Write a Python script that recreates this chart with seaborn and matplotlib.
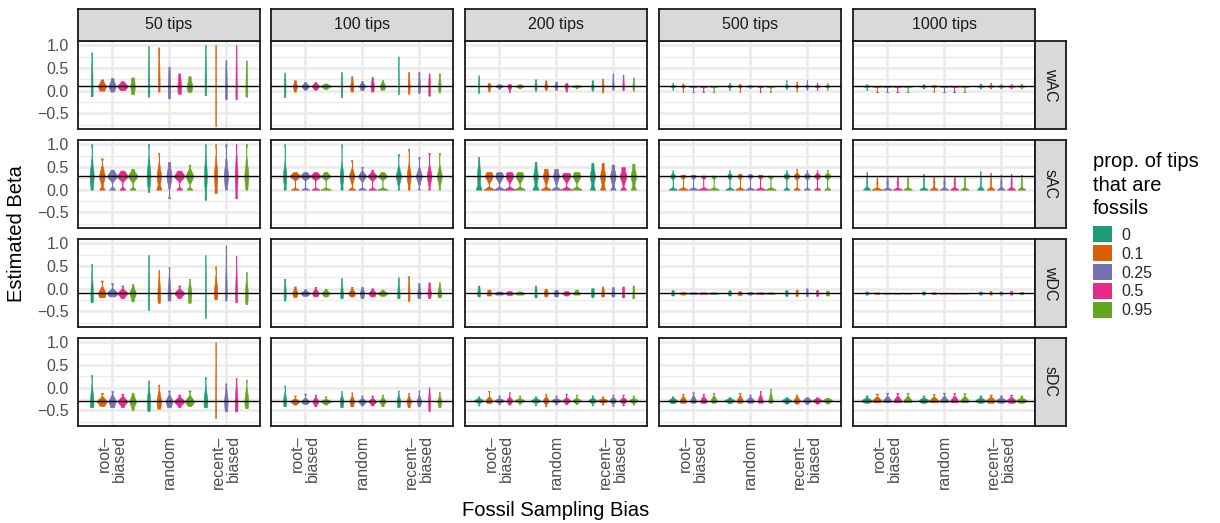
import numpy as np
import pandas as pd
import seaborn as sns
import matplotlib.pyplot as plt
from matplotlib.patches import Patch

# ---- data ---------------------------------------------------------------
tips = ["50 tips", "100 tips", "200 tips", "500 tips", "1000 tips"]
models = ["wAC", "sAC", "wDC", "sDC"]
true_beta = [0.1, 0.3, -0.1, -0.3]
bias = ["root\u2013\nbiased", "random", "recent\u2013\nbiased"]
props = ["0", "0.1", "0.25", "0.5", "0.95"]
colors = ["#1B9E77", "#D95F02", "#7570B3", "#E7298A", "#66A61E"]

# each row = one tips panel, 15 violins ordered bias x prop
wac_lo = [
    [-0.12, 0.00, -0.02, 0.01, -0.08, -0.13, -0.02, -0.17, -0.07, -0.03, -0.10, -0.78, -0.18, -0.19, -0.13],
    [-0.14, -0.02, 0.02, 0.02, 0.04, -0.14, -0.02, 0.01, -0.02, 0.02, -0.08, -0.07, -0.05, -0.11, -0.04],
    [-0.05, -0.02, 0.04, -0.03, 0.05, 0.00, 0.02, 0.02, -0.02, 0.05, 0.00, -0.04, 0.02, 0.01, 0.00],
    [0.02, -0.03, -0.03, -0.03, -0.03, 0.02, -0.03, 0.06, -0.03, -0.03, 0.04, -0.02, 0.02, 0.02, 0.02],
    [0.02, -0.03, -0.03, -0.03, -0.03, 0.05, -0.02, -0.03, -0.03, -0.03, 0.05, 0.05, 0.05, 0.05, 0.05],
]
wac_hi = [
    [0.84, 0.25, 0.28, 0.21, 0.29, 0.98, 0.95, 0.53, 0.38, 0.32, 1.00, 1.00, 0.68, 1.00, 0.66],
    [0.40, 0.23, 0.19, 0.19, 0.16, 0.41, 0.32, 0.21, 0.30, 0.23, 0.75, 0.41, 0.41, 0.38, 0.38],
    [0.34, 0.17, 0.14, 0.15, 0.14, 0.25, 0.23, 0.20, 0.17, 0.12, 0.23, 0.27, 0.38, 0.35, 0.29],
    [0.17, 0.16, 0.10, 0.10, 0.10, 0.17, 0.15, 0.12, 0.11, 0.10, 0.23, 0.20, 0.23, 0.17, 0.17],
    [0.14, 0.10, 0.10, 0.10, 0.10, 0.14, 0.12, 0.10, 0.10, 0.10, 0.15, 0.17, 0.14, 0.14, 0.15],
]
wac_mid = [0.10, 0.10, 0.10, 0.10, 0.10]
wac_spread = [0.48, 0.5, 0.63, 0.26, 0.24]
wac_bw = [0.03, 0.02, 0.012, 0.008, 0.006]

sac_lo = [
    [0.00, 0.00, 0.00, 0.00, 0.00, -0.05, 0.00, -0.19, 0.00, 0.00, -0.22, -0.07, 0.00, -0.19, 0.00],
    [0.00, 0.00, 0.00, 0.00, 0.00, 0.00, 0.00, 0.00, 0.00, 0.00, 0.00, 0.00, 0.00, 0.00, 0.00],
    [0.00, 0.00, 0.00, 0.00, 0.00, 0.00, 0.00, 0.00, 0.00, 0.00, 0.00, 0.00, 0.00, 0.00, 0.00],
    [0.00, 0.00, 0.00, 0.00, 0.00, 0.00, 0.00, 0.00, 0.00, 0.00, 0.00, 0.00, 0.00, 0.00, 0.00],
    [0.00, 0.00, 0.00, 0.00, 0.00, 0.00, 0.00, 0.00, 0.00, 0.00, 0.00, 0.00, 0.00, 0.00, 0.00],
]
sac_hi = [
    [1.00, 0.69, 0.44, 0.42, 0.46, 1.00, 0.81, 0.61, 0.42, 0.55, 1.00, 1.00, 1.00, 1.00, 1.00],
    [1.00, 0.39, 0.39, 0.39, 0.39, 1.00, 0.65, 0.50, 0.44, 0.39, 0.78, 0.90, 0.72, 0.81, 0.81],
    [0.72, 0.39, 0.39, 0.39, 0.39, 0.61, 0.46, 0.46, 0.37, 0.39, 0.59, 0.59, 0.55, 0.50, 0.57],
    [0.43, 0.33, 0.33, 0.31, 0.31, 0.43, 0.35, 0.35, 0.33, 0.31, 0.43, 0.46, 0.43, 0.43, 0.44],
    [0.39, 0.28, 0.28, 0.28, 0.30, 0.35, 0.31, 0.31, 0.31, 0.31, 0.41, 0.37, 0.33, 0.35, 0.33],
]
# how many estimates pile up at the lower bound (0) in sAC
sac_floor = [
    [1, 3, 3, 3, 3, 1, 3, 1, 3, 3, 1, 1, 1, 1, 1],
    [1, 4, 4, 4, 6, 1, 4, 4, 4, 6, 1, 1, 1, 1, 1],
    [4, 6, 6, 6, 6, 4, 6, 6, 6, 6, 3, 3, 3, 3, 3],
    [12, 15, 15, 15, 15, 12, 15, 15, 15, 15, 7, 7, 7, 7, 7],
    [18, 28, 18, 18, 18, 18, 18, 18, 18, 18, 18, 18, 18, 18, 18],
]
sac_mid = [0.30, 0.30, 0.30, 0.30, 0.16]
sac_spread = [0.2, 0.16, 0.29, 0.105, 0.49]
sac_bw = [0.035, 0.024, 0.035, 0.028, 0.025]

wdc_lo = [
    [-0.30, -0.19, -0.17, -0.21, -0.28, -0.47, -0.31, -0.26, -0.21, -0.31, -0.64, -0.23, -0.26, -0.30, -0.34],
    [-0.26, -0.19, -0.16, -0.17, -0.17, -0.21, -0.17, -0.21, -0.17, -0.16, -0.21, -0.27, -0.21, -0.21, -0.19],
    [-0.17, -0.15, -0.13, -0.14, -0.13, -0.19, -0.17, -0.17, -0.15, -0.13, -0.19, -0.17, -0.17, -0.19, -0.21],
    [-0.15, -0.13, -0.12, -0.12, -0.12, -0.15, -0.14, -0.13, -0.12, -0.12, -0.16, -0.16, -0.16, -0.16, -0.15],
    [-0.13, -0.12, -0.11, -0.11, -0.11, -0.13, -0.12, -0.11, -0.11, -0.11, -0.13, -0.13, -0.13, -0.13, -0.12],
]
wdc_hi = [
    [0.55, 0.18, 0.12, 0.07, 0.10, 0.74, 0.41, 0.48, 0.07, 0.22, 0.74, 0.49, 0.95, 0.72, 0.37],
    [0.22, 0.05, -0.01, 0.04, 0.00, 0.23, 0.04, 0.04, 0.01, -0.02, 0.25, 0.28, 0.13, 0.14, 0.14],
    [0.07, -0.02, -0.06, -0.05, -0.06, 0.07, 0.00, -0.02, -0.05, -0.02, 0.01, 0.05, 0.04, 0.05, 0.07],
    [-0.03, -0.07, -0.08, -0.08, -0.08, -0.03, -0.05, -0.07, -0.08, -0.08, -0.03, -0.02, 0.01, -0.03, -0.04],
    [-0.06, -0.08, -0.09, -0.09, -0.09, -0.06, -0.08, -0.09, -0.09, -0.09, -0.06, -0.05, -0.06, -0.05, -0.07],
]
wdc_mid = [-0.10, -0.10, -0.10, -0.10, -0.10]
wdc_spread = [0.32, 0.52, 0.97, 1.25, 2.5]
wdc_bw = [0.025, 0.015, 0.01, 0.006, 0.005]

sdc_lo = [
    [-0.43, -0.40, -0.43, -0.43, -0.49, -0.51, -0.46, -0.43, -0.43, -0.40, -0.43, -0.67, -0.52, -0.52, -0.45],
    [-0.41, -0.37, -0.36, -0.41, -0.37, -0.43, -0.41, -0.39, -0.39, -0.41, -0.43, -0.43, -0.41, -0.51, -0.43],
    [-0.39, -0.34, -0.36, -0.37, -0.36, -0.39, -0.41, -0.37, -0.36, -0.36, -0.39, -0.37, -0.40, -0.39, -0.37],
    [-0.34, -0.33, -0.33, -0.33, -0.33, -0.34, -0.33, -0.33, -0.33, -0.33, -0.35, -0.35, -0.36, -0.35, -0.35],
    [-0.33, -0.32, -0.32, -0.32, -0.32, -0.33, -0.32, -0.32, -0.32, -0.32, -0.33, -0.33, -0.33, -0.33, -0.33],
]
sdc_hi = [
    [0.28, -0.11, -0.07, -0.13, -0.11, 0.16, 0.07, -0.06, -0.15, -0.06, 0.24, 1.00, 0.10, 0.22, 0.18],
    [0.05, -0.17, -0.13, -0.15, -0.19, -0.07, -0.10, -0.17, -0.17, -0.15, -0.06, -0.11, -0.06, 0.01, -0.09],
    [-0.19, -0.07, -0.17, -0.10, -0.17, -0.19, -0.13, -0.17, -0.13, -0.15, -0.17, -0.19, -0.15, -0.15, -0.17],
    [-0.19, -0.13, -0.10, -0.13, -0.11, -0.21, -0.11, -0.15, -0.07, -0.02, -0.21, -0.15, -0.21, -0.21, -0.22],
    [-0.17, -0.13, -0.11, -0.11, -0.11, -0.17, -0.14, -0.11, -0.11, -0.12, -0.17, -0.15, -0.17, -0.15, -0.17],
]
sdc_mid = [-0.30, -0.30, -0.28, -0.28, -0.28]
sdc_spread = [0.32, 0.34, 0.28, 0.5, 0.5]
sdc_bw = [0.025, 0.015, 0.015, 0.015, 0.015]

model_data = [
    (wac_lo, wac_hi, wac_mid, wac_spread, wac_bw, None),
    (sac_lo, sac_hi, sac_mid, sac_spread, sac_bw, sac_floor),
    (wdc_lo, wdc_hi, wdc_mid, wdc_spread, wdc_bw, None),
    (sdc_lo, sdc_hi, sdc_mid, sdc_spread, sdc_bw, None),
]
# how much the smoothing grows with the spread of a violin's body
bw_grow = [0.5, 0.35, 0.5, 0.5]

# normal-score offsets giving the bulk of each violin its shape
body_z = np.array([-1.64, -1.04, -0.67, -0.39, -0.13, 0.13, 0.39, 0.67, 1.04, 1.64])


def violin_points(lo, hi, mid, spread, floor):
    # extremes + the part of a body of estimates that falls inside the range
    s = spread * (hi - lo) ** 1.5
    body = mid + s * body_z
    body = body[(body >= lo) & (body <= hi)]
    return np.concatenate([[lo] * floor, body, [hi]])


def panel_frame(lo, hi, mid, spread, floor):
    rows = []
    for i in range(15):
        b, p = bias[i // 5], props[i % 5]
        f = 1 if floor is None else floor[i]
        for v in violin_points(lo[i], hi[i], mid, spread, f):
            rows.append({"bias": b, "prop": p, "beta": v})
    return pd.DataFrame(rows)


def bandwidth(panel_bw, grow):
    # at least the panel bandwidth, wider for widely spread bodies
    def pick(k):
        d = k.dataset.ravel()
        inner = d[(d > d.min()) & (d < d.max())]
        b = panel_bw
        if inner.size > 2:
            b = max(b, grow * inner.std())
        return b / np.std(d, ddof=1)
    return pick


# ---- layout (pixels of the 1220x523 figure) ------------------------------
sns.set_theme(style="white")
plt.rcParams["font.family"] = ["Liberation Sans", "DejaVu Sans"]

W, H = 1220, 523
panel_x = [78, 271, 465, 659, 853]
panel_y = [41, 140, 239, 338]
pw, ph = 182, 88


def box(x, y, w, h):
    return [x / W, 1 - (y + h) / H, w / W, h / H]


fig = plt.figure(figsize=(W / 100, H / 100), dpi=100)
border = "#1A1A1A"

for r, model in enumerate(models):
    lo_all, hi_all, mids, spreads, bws, floors = model_data[r]
    for c in range(5):
        ax = fig.add_axes(box(panel_x[c], panel_y[r], pw, ph))
        df = panel_frame(lo_all[c], hi_all[c], mids[c], spreads[c],
                         None if floors is None else floors[c])
        sns.violinplot(data=df, x="bias", y="beta", hue="prop",
                       order=bias, hue_order=props, palette=colors,
                       width=0.9, cut=0, inner=None, gridsize=600,
                       density_norm="area", common_norm=True,
                       bw_method=bandwidth(bws[c], bw_grow[r]),
                       saturation=1, linewidth=0.4, legend=False, ax=ax)
        for coll in ax.collections:
            coll.set_edgecolor(coll.get_facecolor())
        ax.axhline(true_beta[r], color="black", lw=1.0, zorder=5)

        ax.set_xlim(-0.6, 2.6)
        ax.set_ylim(-0.84, 1.09)
        ax.set_yticks([-0.5, 0.0, 0.5, 1.0])
        ax.set_yticks([-0.75, -0.25, 0.25, 0.75], minor=True)
        ax.grid(which="major", color="#EBEBEB", lw=1.9)
        ax.grid(which="minor", axis="y", color="#EBEBEB", lw=0.95)
        ax.set_axisbelow(True)
        ax.set_xlabel("")
        ax.set_ylabel("")
        for sp in ax.spines.values():
            sp.set_color(border)
            sp.set_linewidth(1.3)
        ax.tick_params(which="minor", length=0)
        ax.tick_params(which="major", length=4.5, width=1.1, color="#333333",
                       labelsize=11.5, labelcolor="#4D4D4D", pad=2)
        if c == 0:
            ax.set_yticklabels(["\u22120.5", "0.0", "0.5", "1.0"])
        else:
            ax.tick_params(axis="y", left=False, labelleft=False)
        if r == 3:
            ax.set_xticks([0, 1, 2])
            ax.set_xticklabels(bias, rotation=90, ha="center", va="top",
                               multialignment="right", linespacing=1.0)
        else:
            ax.tick_params(axis="x", bottom=False, labelbottom=False)

        if r == 0:
            sax = fig.add_axes(box(panel_x[c], 9, pw, 32))
            sax.set_facecolor("#D9D9D9")
            sax.set_xticks([])
            sax.set_yticks([])
            for sp in sax.spines.values():
                sp.set_color(border)
                sp.set_linewidth(1.3)
            sax.text(0.5, 0.5, tips[c], ha="center", va="center",
                     fontsize=11.5, color="#1A1A1A", transform=sax.transAxes)
        if c == 4:
            rax = fig.add_axes(box(1035, panel_y[r], 31, ph))
            rax.set_facecolor("#D9D9D9")
            rax.set_xticks([])
            rax.set_yticks([])
            for sp in rax.spines.values():
                sp.set_color(border)
                sp.set_linewidth(1.3)
            rax.text(0.5, 0.5, model, ha="center", va="center", rotation=-90,
                     fontsize=11.5, color="#1A1A1A", transform=rax.transAxes)

fig.text(17 / W, 1 - 234 / H, "Estimated Beta", rotation=90,
         ha="center", va="center", fontsize=14.5, color="black")
fig.text(556 / W, 1 - 510 / H, "Fossil Sampling Bias",
         ha="center", va="center", fontsize=14.5, color="black")

# legend: title as its own text so the gap above the keys matches
fig.text(1093 / W, 1 - 152 / H, "prop. of tips\nthat are\nfossils",
         ha="left", va="top", fontsize=14.5, linespacing=1.3, color="black")
handles = [Patch(facecolor=col, edgecolor="none") for col in colors]
fig.legend(handles, props, loc="upper left",
           bbox_to_anchor=(1093 / W, 1 - 226 / H),
           frameon=False, fontsize=11.5, handlelength=1.2, handleheight=1.2,
           labelspacing=0.15, handletextpad=0.6, borderpad=0,
           borderaxespad=0)

fig.savefig("out.png", dpi=100)
